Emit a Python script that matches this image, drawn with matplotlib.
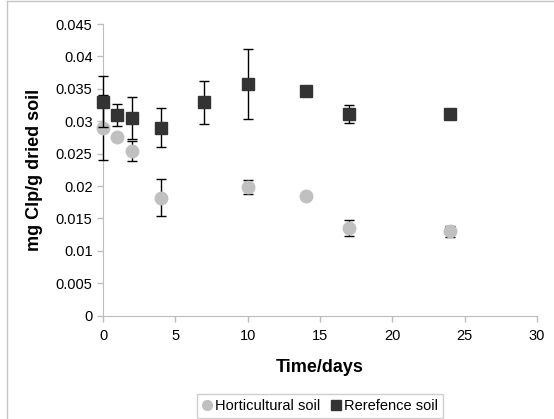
import matplotlib
matplotlib.use('Agg')
import matplotlib.pyplot as plt
from matplotlib.lines import Line2D

plt.rcParams['font.family'] = ['Liberation Sans', 'DejaVu Sans']

# days sampled
days_hort = [0, 1, 2, 4, 10, 14, 17, 24]
hort = [0.0290, 0.0276, 0.0254, 0.0182, 0.0199, 0.0185, 0.0135, 0.0130]
hort_err = [0.0050, 0.0, 0.0015, 0.0029, 0.0011, 0.0, 0.0012, 0.0008]

days_ref = [0, 1, 2, 4, 7, 10, 14, 17, 24]
ref = [0.0330, 0.0310, 0.0305, 0.0290, 0.0329, 0.0357, 0.0347, 0.0311, 0.0311]
ref_err = [0.0039, 0.0017, 0.0033, 0.0030, 0.0033, 0.0054, 0.0, 0.0014, 0.0]

x_ticks = [0, 5, 10, 15, 20, 25, 30]
y_ticks = [0, 0.005, 0.01, 0.015, 0.02, 0.025, 0.03, 0.035, 0.04, 0.045]
y_tick_labels = ['0', '0.005', '0.01', '0.015', '0.02', '0.025', '0.03', '0.035', '0.04', '0.045']

W, H = 554, 419
fig = plt.figure(figsize=(W / 100, H / 100), dpi=100)
ax = fig.add_axes([103 / W, 1 - 315.6 / H, 434 / W, 291.6 / H])

# outer chart frame (partly outside the picture)
frame_c = '#c4c4c4'
fig.add_artist(Line2D([6.5 / W, 6.5 / W], [0, 1 - 1.5 / H], transform=fig.transFigure, color=frame_c, lw=1))
fig.add_artist(Line2D([6.5 / W, 1], [1 - 1.5 / H, 1 - 1.5 / H], transform=fig.transFigure, color=frame_c, lw=1))

err_kw = dict(ecolor='black', elinewidth=1, capsize=3.5, capthick=1)
c1 = ax.errorbar(days_hort, hort, yerr=hort_err, fmt='o', color='#c0c0c0', ms=9,
                 zorder=3, label='Horticultural soil', **err_kw)
c2 = ax.errorbar(days_ref, ref, yerr=ref_err, fmt='s', color='#333333', ms=9,
                 zorder=4, label='Rerefence soil', **err_kw)
for cont in (c1, c2):
    for art in cont.get_children():
        art.set_clip_on(False)

ax.set_xlim(0, 30)
ax.set_ylim(0, 0.045)
ax.set_xticks(x_ticks)
ax.set_yticks(y_ticks)
ax.set_yticklabels(y_tick_labels)
for s in ['top', 'right']:
    ax.spines[s].set_visible(False)
for s in ['left', 'bottom']:
    ax.spines[s].set_color('#bdbdbd')
ax.tick_params(colors='#bdbdbd', labelcolor='black', labelsize=10.5, length=4, width=1)
ax.tick_params(axis='x', pad=6)

ax.set_xlabel('Time/days', fontsize=13, fontweight='bold', labelpad=11)
ax.set_ylabel('mg Clp/g dried soil', fontsize=13, fontweight='bold', labelpad=9)

labels = ['Horticultural soil', 'Rerefence soil']
handles = [Line2D([], [], ls='', marker='o', color='#c0c0c0', ms=7),
           Line2D([], [], ls='', marker='s', color='#333333', ms=7)]
leg = fig.legend(handles, labels, loc='upper center', bbox_to_anchor=(320 / W, 1 - 394 / H),
                 ncol=2, fontsize=10.5, frameon=True, fancybox=False, handlelength=0.6,
                 handletextpad=0.25, columnspacing=0.8, borderpad=0.35, borderaxespad=0)
leg.get_frame().set_edgecolor('#c4c4c4')
leg.get_frame().set_linewidth(1)

fig.savefig('out.png', dpi=100)
